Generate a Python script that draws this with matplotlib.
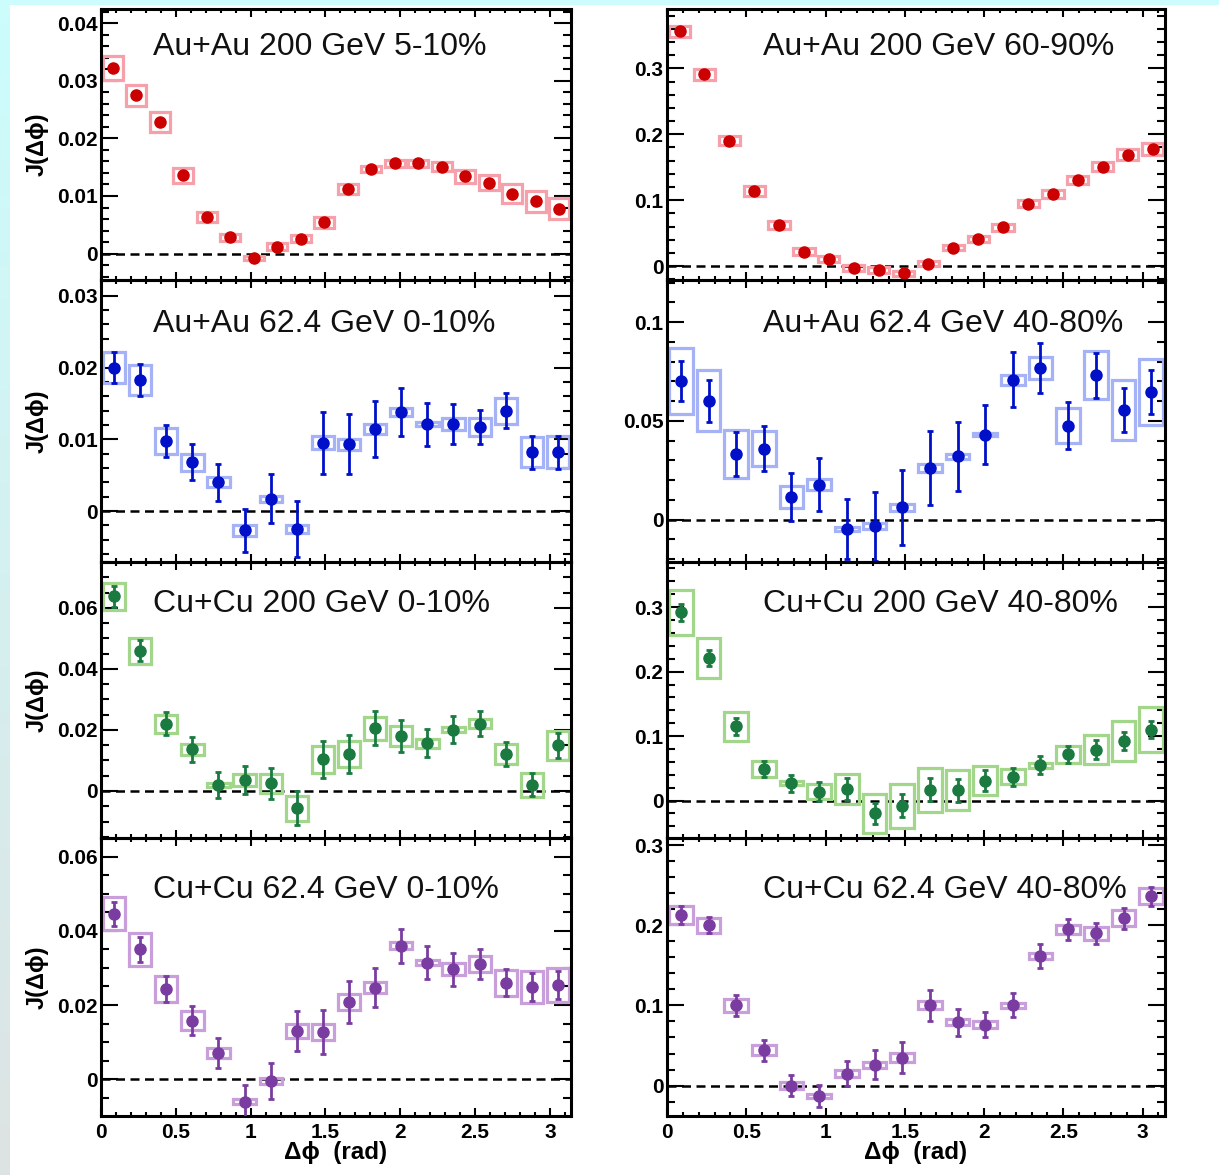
import numpy as np
import matplotlib
matplotlib.use("Agg")
import matplotlib.pyplot as plt
from matplotlib.ticker import MultipleLocator, FuncFormatter

plt.rcParams['font.family'] = ['Liberation Sans', 'DejaVu Sans']

# ---------------- data ----------------
x20 = [0.079, 0.236, 0.393, 0.550, 0.707, 0.864, 1.021, 1.178, 1.335, 1.492,
       1.649, 1.806, 1.963, 2.120, 2.278, 2.435, 2.592, 2.749, 2.906, 3.063]
x18 = [0.087, 0.262, 0.436, 0.611, 0.785, 0.960, 1.134, 1.309, 1.484, 1.658,
       1.833, 2.007, 2.182, 2.356, 2.531, 2.705, 2.880, 3.054]

# Au+Au 200 GeV 5-10%
auau200c_y = [0.0322, 0.0275, 0.0229, 0.0136, 0.0064, 0.0028, -0.0008, 0.0012, 0.0026, 0.0054,
              0.0112, 0.0147, 0.0157, 0.0157, 0.0151, 0.0134, 0.0123, 0.0104, 0.0091, 0.0078]
auau200c_stat = [0.0003] * 20
auau200c_sys = [0.0021, 0.0018, 0.0017, 0.0013, 0.0009, 0.0006, 0.0004, 0.0006, 0.0006, 0.0009,
                0.0008, 0.0006, 0.0006, 0.0006, 0.0008, 0.0011, 0.0013, 0.0017, 0.0018, 0.0018]

# Au+Au 200 GeV 60-90%
auau200p_y = [0.356, 0.291, 0.190, 0.114, 0.062, 0.022, 0.011, -0.003, -0.006, -0.011,
              0.004, 0.028, 0.041, 0.059, 0.095, 0.109, 0.130, 0.151, 0.169, 0.178]
auau200p_stat = [0.003] * 20
auau200p_sys = [0.008, 0.008, 0.007, 0.007, 0.006, 0.005, 0.004, 0.004, 0.004, 0.004,
                0.004, 0.004, 0.005, 0.005, 0.006, 0.006, 0.006, 0.007, 0.008, 0.009]

# Au+Au 62.4 GeV 0-10%
auau62c_y = [0.0200, 0.0183, 0.0098, 0.0068, 0.0040, -0.0027, 0.0017, -0.0025, 0.0095, 0.0093,
             0.0114, 0.0138, 0.0121, 0.0121, 0.0117, 0.0140, 0.0082, 0.0082]
auau62c_stat = [0.0021, 0.0022, 0.0022, 0.0025, 0.0026, 0.0030, 0.0034, 0.0039, 0.0043, 0.0042,
                0.0039, 0.0034, 0.0030, 0.0028, 0.0024, 0.0024, 0.0023, 0.0023]
auau62c_sys = [0.0022, 0.0021, 0.0018, 0.0012, 0.0007, 0.0008, 0.0004, 0.0006, 0.0009, 0.0008,
               0.0007, 0.0005, 0.0003, 0.0008, 0.0013, 0.0018, 0.0021, 0.0022]

# Au+Au 62.4 GeV 40-80%
auau62p_y = [0.0700, 0.0602, 0.0331, 0.0359, 0.0115, 0.0177, -0.0047, -0.0034, 0.0061, 0.0261,
             0.0320, 0.0430, 0.0708, 0.0767, 0.0476, 0.0730, 0.0553, 0.0646]
auau62p_stat = [0.0101, 0.0107, 0.0110, 0.0114, 0.0122, 0.0136, 0.0153, 0.0174, 0.0191, 0.0186,
                0.0175, 0.0150, 0.0140, 0.0128, 0.0118, 0.0115, 0.0112, 0.0110]
auau62p_sys = [0.0167, 0.0154, 0.0122, 0.0089, 0.0056, 0.0028, 0.0010, 0.0014, 0.0019, 0.0020,
               0.0013, 0.0008, 0.0025, 0.0056, 0.0089, 0.0121, 0.0152, 0.0169]

# Cu+Cu 200 GeV 0-10%
cucu200c_y = [0.0638, 0.0459, 0.0220, 0.0136, 0.0019, 0.0036, 0.0025, -0.0057, 0.0104, 0.0120,
              0.0205, 0.0180, 0.0156, 0.0200, 0.0221, 0.0121, 0.0020, 0.0149]
cucu200c_stat = [0.0034, 0.0034, 0.0038, 0.0041, 0.0042, 0.0045, 0.0051, 0.0056, 0.0061, 0.0062,
                 0.0056, 0.0051, 0.0046, 0.0044, 0.0041, 0.0038, 0.0038, 0.0040]
cucu200c_sys = [0.0044, 0.0043, 0.0029, 0.0019, 0.0007, 0.0019, 0.0031, 0.0041, 0.0044, 0.0043,
                0.0038, 0.0032, 0.0015, 0.0008, 0.0016, 0.0032, 0.0040, 0.0046]

# Cu+Cu 200 GeV 40-80%
cucu200p_y = [0.292, 0.221, 0.115, 0.049, 0.027, 0.014, 0.018, -0.020, -0.008, 0.017,
              0.016, 0.031, 0.037, 0.055, 0.072, 0.079, 0.093, 0.110]
cucu200p_stat = [0.013, 0.013, 0.013, 0.013, 0.013, 0.015, 0.017, 0.016, 0.018, 0.018,
                 0.018, 0.016, 0.014, 0.014, 0.013, 0.015, 0.014, 0.013]
cucu200p_sys = [0.035, 0.031, 0.022, 0.013, 0.003, 0.012, 0.023, 0.030, 0.034, 0.034,
                0.031, 0.023, 0.012, 0.004, 0.013, 0.022, 0.031, 0.035]

# Cu+Cu 62.4 GeV 0-10%
cucu62c_y = [0.0446, 0.0350, 0.0243, 0.0158, 0.0070, -0.0060, -0.0004, 0.0130, 0.0128, 0.0208,
             0.0247, 0.0360, 0.0314, 0.0296, 0.0310, 0.0260, 0.0248, 0.0254]
cucu62c_stat = [0.0032, 0.0034, 0.0035, 0.0039, 0.0040, 0.0044, 0.0049, 0.0055, 0.0059, 0.0057,
                0.0053, 0.0046, 0.0045, 0.0044, 0.0041, 0.0037, 0.0037, 0.0037]
cucu62c_sys = [0.0045, 0.0044, 0.0036, 0.0026, 0.0013, 0.0008, 0.0008, 0.0018, 0.0022, 0.0021,
               0.0015, 0.0009, 0.0007, 0.0016, 0.0022, 0.0035, 0.0043, 0.0047]

# Cu+Cu 62.4 GeV 40-80%
cucu62p_y = [0.213, 0.200, 0.100, 0.044, 0.000, -0.013, 0.015, 0.026, 0.035, 0.100,
             0.079, 0.076, 0.100, 0.162, 0.195, 0.190, 0.209, 0.236]
cucu62p_stat = [0.011, 0.010, 0.013, 0.013, 0.013, 0.014, 0.016, 0.018, 0.019, 0.019,
                0.017, 0.016, 0.015, 0.015, 0.013, 0.013, 0.013, 0.012]
cucu62p_sys = [0.011, 0.009, 0.008, 0.006, 0.004, 0.003, 0.004, 0.004, 0.006, 0.005,
               0.004, 0.004, 0.003, 0.004, 0.006, 0.008, 0.010, 0.010]

labels = ["Au+Au 200 GeV 5-10%", "Au+Au 200 GeV 60-90%",
          "Au+Au 62.4 GeV 0-10%", "Au+Au 62.4 GeV 40-80%",
          "Cu+Cu 200 GeV 0-10%", "Cu+Cu 200 GeV 40-80%",
          "Cu+Cu 62.4 GeV 0-10%", "Cu+Cu 62.4 GeV 40-80%"]
xticks = [0, 0.5, 1, 1.5, 2, 2.5, 3]
xticklabels = ["0", "0.5", "1", "1.5", "2", "2.5", "3"]

# ---------------- style ----------------
W, H = 1219, 1175
fig = plt.figure(figsize=(W / 100, H / 100), dpi=100, facecolor='white')

# slide background edges
bg = fig.add_axes([0, 0, 10 / W, 1])
grad = np.linspace(0, 1, 256).reshape(-1, 1)
c_top = np.array([0.80, 0.99, 0.99])
c_bot = np.array([0.87, 0.89, 0.89])
img = c_top[None, None, :] * (1 - grad[:, :, None]) + c_bot[None, None, :] * grad[:, :, None]
bg.imshow(img, aspect='auto', extent=[0, 1, 0, 1])
bg.axis('off')
top = fig.add_axes([0, 1 - 5 / H, 1, 5 / H])
top.axis('off')
top.add_patch(plt.Rectangle((0, 0), 1, 1, color='#ccfcfc', transform=top.transAxes))

cols = [(101, 571), (667, 1165)]
rows = [(9, 280), (280, 562), (562, 838), (838, 1116)]

mcol = ['#cc0000', '#0010c8', '#1a7a40', '#7a3ca0']
bcol = ['#f6a0ab', '#a6b2f6', '#a2d68a', '#c89fdb']

panels = [
    (x20, auau200c_y, auau200c_stat, auau200c_sys, (-0.0046, 0.0425), 0.01, 0.002),
    (x20, auau200p_y, auau200p_stat, auau200p_sys, (-0.021, 0.39), 0.1, 0.02),
    (x18, auau62c_y, auau62c_stat, auau62c_sys, (-0.0071, 0.0322), 0.01, 0.002),
    (x18, auau62p_y, auau62p_stat, auau62p_sys, (-0.0215, 0.1213), 0.05, 0.01),
    (x18, cucu200c_y, cucu200c_stat, cucu200c_sys, (-0.0154, 0.075), 0.02, 0.005),
    (x18, cucu200p_y, cucu200p_stat, cucu200p_sys, (-0.058, 0.37), 0.1, 0.02),
    (x18, cucu62c_y, cucu62c_stat, cucu62c_sys, (-0.0099, 0.065), 0.02, 0.005),
    (x18, cucu62p_y, cucu62p_stat, cucu62p_sys, (-0.038, 0.309), 0.1, 0.02),
]
text_base = [46, 52, 50, 60]


def fmt(v, pos):
    if abs(v) < 1e-12:
        return "0"
    return f"{v:g}"


for i, (xs, ys, st, sy, ylim, maj, mnr) in enumerate(panels):
    r, c = divmod(i, 2)
    x0, x1 = cols[c]
    y0, y1 = rows[r]
    ax = fig.add_axes([x0 / W, 1 - y1 / H, (x1 - x0) / W, (y1 - y0) / H])
    ax.set_facecolor('none')
    xs = np.array(xs)
    ys = np.array(ys)
    st = np.array(st)
    sy = np.array(sy)
    bw = 0.85 * (xs[1] - xs[0])
    ax.axhline(0, color='black', lw=1.8, ls=(0, (3.6, 2.2)), zorder=1)
    ax.bar(xs, 2 * sy, bottom=ys - sy, width=bw, fill=False,
           edgecolor=bcol[r], linewidth=2.3, zorder=2)
    ax.errorbar(xs, ys, yerr=st, fmt='o', color=mcol[r], ms=8, elinewidth=2.0,
                capsize=2.5, capthick=2.0, zorder=3)
    ax.set_xlim(0, np.pi)
    ax.set_ylim(*ylim)
    ax.xaxis.set_major_locator(MultipleLocator(0.5))
    ax.xaxis.set_minor_locator(MultipleLocator(0.1))
    ax.yaxis.set_major_locator(MultipleLocator(maj))
    ax.yaxis.set_minor_locator(MultipleLocator(mnr))
    ax.yaxis.set_major_formatter(FuncFormatter(fmt))
    ax.tick_params(axis='both', which='both', direction='in', top=True, right=True,
                   width=1.5, colors='black')
    ax.tick_params(axis='y', which='major', length=12.5, pad=2.5, labelsize=15)
    ax.tick_params(axis='y', which='minor', length=6)
    ax.tick_params(axis='x', which='major', length=5.5, pad=5, labelsize=15)
    ax.tick_params(axis='x', which='minor', length=3)
    for lab in ax.get_yticklabels():
        lab.set_fontweight('bold')
    if r == 3:
        ax.set_xticks(xticks)
        ax.set_xticklabels(xticklabels, fontweight='bold')
    else:
        ax.tick_params(axis='x', labelbottom=False)
    for sp in ax.spines.values():
        sp.set_linewidth(2.2)
    tx = 0.111 if c == 0 else 0.193
    ty = 1 - text_base[r] / (y1 - y0)
    ax.text(tx, ty, labels[i], transform=ax.transAxes, fontsize=23,
            ha='left', va='baseline', color='#111111')

    if c == 0:
        fig.text(37 / W, 1 - ((y0 + y1) / 2) / H, "J(Δϕ)", rotation=90,
                 ha='center', va='center', fontsize=17, fontweight='bold')
    if r == 3:
        fig.text(((x0 + x1) / 2) / W, 1 - 1153 / H, "Δϕ  (rad)",
                 ha='center', va='center', fontsize=17.5, fontweight='bold')

fig.savefig("out.png", dpi=100, facecolor='white')
